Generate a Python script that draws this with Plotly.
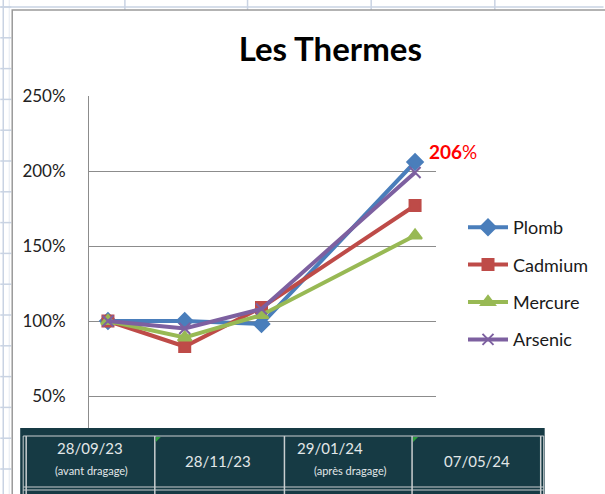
import plotly.graph_objects as go

# Données (en %)
dates = ["28/09/23", "28/11/23", "29/01/24", "07/05/24"]
notes = ["(avant dragage)", "", "(après dragage)", ""]
plomb = [100, 100, 98, 206]
cadmium = [100, 83, 109, 177]
mercure = [100, 89, 104, 157]
arsenic = [100, 95, 108, 199]
y_ticks = [50, 100, 150, 200, 250]

# Axe catégoriel : une case vide entre janvier et mai, comme dans le classeur
slots = dates[:3] + [" "] + dates[3:]

W, H = 605, 494
L, R, T, B = 89, 168, 96, 23
PW, PH = W - L - R, H - T - B


def px(x):
    return (x - L) / PW


def py(y):
    return (H - B - y) / PH


series = [
    ("Plomb", plomb, "#4A7EBB", "diamond", 12),
    ("Cadmium", cadmium, "#BE4B48", "square", 11),
    ("Mercure", mercure, "#98B954", "triangle-up", 12),
    ("Arsenic", arsenic, "#7D60A0", "x-thin-open", 11),
]

fig = go.Figure()
for i, (name, vals, color, symbol, size) in enumerate(series):
    fig.add_trace(go.Scatter(
        x=dates, y=vals, name=name, mode="lines+markers",
        line=dict(color=color, width=4),
        marker=dict(symbol=symbol, size=size, color=color,
                    line=dict(color=color, width=2)),
        legendgroup=str(i),
    ))

font = "Lato, Open Sans, sans-serif"
grid = "#8C8C8C"
sheet = "#C9D3E3"

shapes = []
# fond de la feuille Excel (quadrillage) autour du graphique
shapes.append(dict(type="line", xref="paper", yref="paper",
                   x0=px(3), x1=px(3), y0=py(0), y1=py(H), line=dict(color=sheet, width=1.5), layer="below"))
shapes.append(dict(type="line", xref="paper", yref="paper",
                   x0=px(9), x1=px(9), y0=py(0), y1=py(H), line=dict(color="#E4E9F1", width=1), layer="below"))
shapes.append(dict(type="line", xref="paper", yref="paper",
                   x0=px(0), x1=px(W), y0=py(7), y1=py(7), line=dict(color=sheet, width=1.5), layer="below"))
for xx in [125, 248, 372, 496]:
    shapes.append(dict(type="line", xref="paper", yref="paper",
                       x0=px(xx), x1=px(xx), y0=py(0), y1=py(10), line=dict(color=sheet, width=1.5), layer="below"))
yy = 7
while yy < H:
    shapes.append(dict(type="line", xref="paper", yref="paper",
                       x0=px(0), x1=px(11), y0=py(yy), y1=py(yy), line=dict(color=sheet, width=1.5), layer="below"))
    yy += 30.8
# cadre du graphique
shapes.append(dict(type="rect", xref="paper", yref="paper",
                   x0=px(12), x1=px(W + 5), y0=py(10), y1=py(H + 5),
                   line=dict(color="#9A9A9A", width=1.5), layer="below"))

# tableau des dates par-dessus le bas du graphique
dark = "#163A44"
light = "#C9CED0"
shapes.append(dict(type="rect", xref="paper", yref="paper",
                   x0=px(20), x1=px(546), y0=py(428), y1=py(H + 2),
                   fillcolor=dark, line=dict(width=0), layer="above"))
cols = [26, 155, 285, 413, 542]
for xx in cols:
    shapes.append(dict(type="line", xref="paper", yref="paper",
                       x0=px(xx), x1=px(xx), y0=py(436), y1=py(H + 2),
                       line=dict(color=light, width=1.5), layer="above"))
shapes.append(dict(type="line", xref="paper", yref="paper",
                   x0=px(23), x1=px(23), y0=py(436), y1=py(H + 2),
                   line=dict(color=light, width=1), layer="above"))
shapes.append(dict(type="line", xref="paper", yref="paper",
                   x0=px(545), x1=px(545), y0=py(436), y1=py(H + 2),
                   line=dict(color=light, width=1), layer="above"))
for yy in [436, 487, 490]:
    shapes.append(dict(type="line", xref="paper", yref="paper",
                       x0=px(23), x1=px(545), y0=py(yy), y1=py(yy),
                       line=dict(color=light, width=1.2), layer="above"))
# petits triangles verts (indicateurs Excel)
for xx in [cols[1], cols[3]]:
    x0, y0 = px(xx + 1), py(437)
    x1, y1 = px(xx + 6), py(442)
    shapes.append(dict(type="path", xref="paper", yref="paper",
                       path=f"M {x0} {y0} L {x1} {y0} L {x0} {y1} Z",
                       fillcolor="#2E9E3E", line=dict(width=0), layer="above"))

annotations = []
centers = [90, 218, 349, 478]
txt = "#E2E7E8"
for i, d in enumerate(dates):
    if notes[i]:
        dx = -18 if i == 2 else 0
        annotations.append(dict(xref="paper", yref="paper", x=px(centers[i] + dx), y=py(448),
                                text=d, showarrow=False, xanchor="center", yanchor="middle",
                                font=dict(family=font, size=15, color=txt)))
        annotations.append(dict(xref="paper", yref="paper", x=px(centers[i] + 2), y=py(470),
                                text=notes[i], showarrow=False, xanchor="center", yanchor="middle",
                                font=dict(family=font, size=11, color=txt)))
    else:
        annotations.append(dict(xref="paper", yref="paper", x=px(centers[i]), y=py(461),
                                text=d, showarrow=False, xanchor="center", yanchor="middle",
                                font=dict(family=font, size=15, color=txt)))

# étiquette de la dernière valeur du plomb
annotations.append(dict(x=dates[-1], y=plomb[-1], xref="x", yref="y",
                        text=f"<b>{plomb[-1]}</b>%", showarrow=False,
                        xanchor="left", yanchor="middle", xshift=12, yshift=11,
                        font=dict(family=font, size=19, color="#FF0000")))

fig.update_layout(
    width=W, height=H,
    margin=dict(l=L, r=R, t=T, b=B),
    paper_bgcolor="white", plot_bgcolor="white",
    title=dict(text="<b>Les Thermes</b>", x=px(331), xref="paper", xanchor="center",
               y=1 - 49 / H, yref="container", yanchor="middle",
               font=dict(family=font, size=33, color="#000000")),
    showlegend=True,
    legend=dict(x=px(463), y=py(209), xanchor="left", yanchor="top",
                font=dict(family=font, size=18, color="#1A1A1A"),
                tracegroupgap=11, itemwidth=40, bgcolor="rgba(0,0,0,0)"),
    xaxis=dict(type="category", categoryorder="array", categoryarray=slots,
               range=[-19 / 77, 4 + 21 / 77], showgrid=False, showline=False,
               showticklabels=False, zeroline=False, ticks=""),
    yaxis=dict(range=[0, 250], tickvals=y_ticks, ticktext=[f"{v}%" for v in y_ticks],
               showgrid=True, gridcolor=grid, gridwidth=1, showline=True,
               linecolor=grid, linewidth=1, zeroline=False, ticks="",
               ticklabelstandoff=19,
               tickfont=dict(family=font, size=17, color="#222222")),
    shapes=shapes,
    annotations=annotations,
)

# la page n'a pas de marge, pour que la figure remplisse la fenêtre
fig.write_html("out.html", config={"displayModeBar": False},
               post_script="document.body.style.margin='0';")
